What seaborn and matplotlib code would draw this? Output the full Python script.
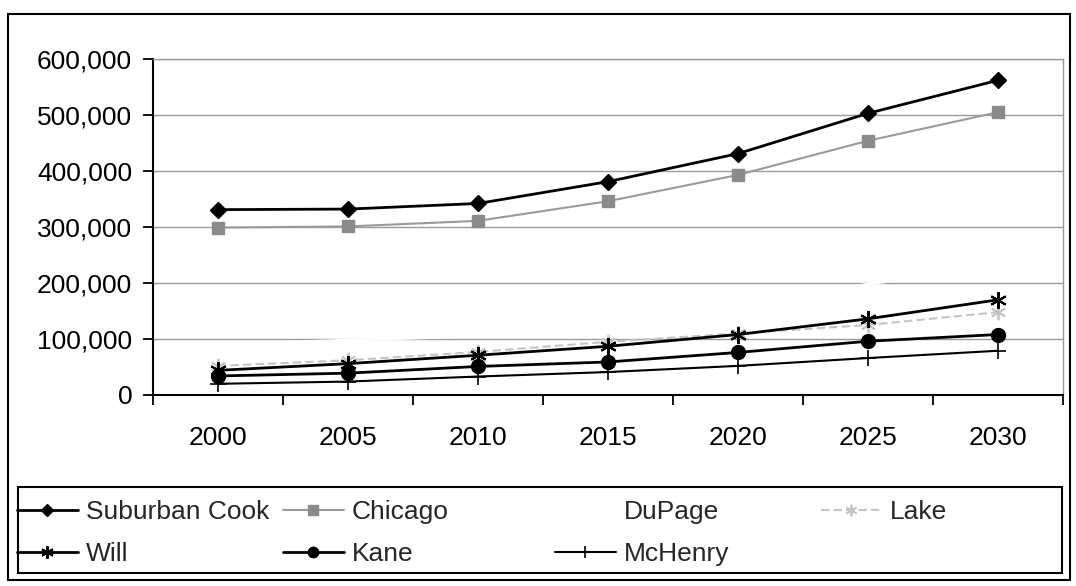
import numpy as np
import pandas as pd
import matplotlib
matplotlib.use("Agg")
import matplotlib.pyplot as plt
import seaborn as sns
from matplotlib.patches import Rectangle
from matplotlib.ticker import FixedLocator, FuncFormatter

# ---------------- data ----------------
years = ["2000", "2005", "2010", "2015", "2020", "2025", "2030"]
suburban_cook = [331000, 332000, 342000, 381000, 431000, 503000, 562000]
chicago = [299000, 301000, 311000, 346000, 393000, 454000, 505000]
dupage = [90000, 98000, 105000, 125000, 160000, 198000, 230000]
lake = [52000, 62000, 77000, 95000, 110000, 125000, 148000]
will = [44000, 56000, 71000, 87000, 108000, 136000, 170000]
kane = [34000, 39000, 51000, 59000, 76000, 96000, 108000]
mchenry = [20000, 24000, 33000, 41000, 52000, 66000, 79000]

series_names = ["Suburban Cook", "Chicago", "DuPage", "Lake", "Will", "Kane", "McHenry"]
series_values = [suburban_cook, chicago, dupage, lake, will, kane, mchenry]
y_ticks = [0, 100000, 200000, 300000, 400000, 500000, 600000]

df = pd.DataFrame({
    "Year": [y for _ in series_names for y in years],
    "Value": [v for vals in series_values for v in vals],
    "County": [n for n in series_names for _ in years],
})

styles = {
    "Suburban Cook": dict(color="black", marker="D", markersize=8, lw=2.0, ls="-",
                          mfc="black", mec="black", mew=1.0),
    "Chicago": dict(color="#9a9a9a", marker="s", markersize=9, lw=1.5, ls="-",
                    mfc="#8a8a8a", mec="#8a8a8a", mew=1.0),
    "DuPage": dict(color="white", marker=None, markersize=0, lw=2.0, ls="-",
                   mfc="white", mec="white", mew=0),
    "Lake": dict(color="#c4c4c4", marker=(6, 2, 0), markersize=11, lw=1.5, ls=(0, (4, 2)),
                 mfc="#c4c4c4", mec="#c4c4c4", mew=1.3),
    "Will": dict(color="black", marker=(6, 2, 0), markersize=12, lw=2.0, ls="-",
                 mfc="black", mec="black", mew=1.5),
    "Kane": dict(color="black", marker="o", markersize=10, lw=2.0, ls="-",
                 mfc="black", mec="black", mew=1.0),
    "McHenry": dict(color="black", marker="+", markersize=11, lw=1.5, ls="-",
                    mfc="black", mec="black", mew=1.2),
}

# ---------------- figure ----------------
sns.set_theme(style="white")
plt.rcParams['font.family'] = ['Liberation Sans', 'DejaVu Sans']

W, H = 1076, 586
fig = plt.figure(figsize=(W / 100, H / 100), dpi=100)
fig.patch.set_facecolor("white")


def fx(px):
    return px / W


def fy(py):
    return 1 - py / H


ax = fig.add_axes([fx(153), fy(395), fx(1063) - fx(153), fy(59) - fy(395)])

for name in series_names:
    st = styles[name]
    sub = df[df["County"] == name]
    sns.lineplot(data=sub, x="Year", y="Value", ax=ax, sort=False,
                 color=st["color"], marker=st["marker"], markersize=st["markersize"],
                 linewidth=st["lw"], linestyle=st["ls"], markerfacecolor=st["mfc"],
                 markeredgecolor=st["mec"], markeredgewidth=st["mew"], label=name)

if ax.get_legend() is not None:
    ax.get_legend().remove()

ax.set_xlim(-0.5, 6.5)
ax.set_ylim(0, 600000)
ax.set_xlabel("")
ax.set_ylabel("")
ax.yaxis.set_major_locator(FixedLocator(y_ticks))
ax.yaxis.set_major_formatter(FuncFormatter(lambda v, p: f"{int(v):,}"))
ax.yaxis.grid(True, color="#9a9a9a", linewidth=1.0, linestyle="-")
ax.xaxis.grid(False)
ax.set_axisbelow(True)

ax.xaxis.set_minor_locator(FixedLocator([i - 0.5 for i in range(8)]))
ax.tick_params(axis="x", which="major", length=0, pad=22, labelsize=19, labelcolor="black")
ax.tick_params(axis="x", which="minor", bottom=True, length=7, width=1.3, color="black",
               direction="out")
ax.tick_params(axis="y", which="major", left=True, length=7, width=1.3, color="black",
               direction="out", pad=8, labelsize=19, labelcolor="black")

for side in ["left", "bottom"]:
    ax.spines[side].set_color("black")
    ax.spines[side].set_linewidth(1.5)
for side in ["top", "right"]:
    ax.spines[side].set_color("#9a9a9a")
    ax.spines[side].set_linewidth(1.0)
    ax.spines[side].set_linestyle((0, (2, 1)))

# ---------------- legend ----------------
handles, labels = ax.get_legend_handles_labels()
hmap = dict(zip(labels, handles))
columns = [
    (17, ["Suburban Cook", "Will"]),
    (283, ["Chicago", "Kane"]),
    (555, ["DuPage", "McHenry"]),
    (821, ["Lake"]),
]
for xpos, names in columns:
    fig.legend([hmap[n] for n in names], names, loc="upper left",
               bbox_to_anchor=(fx(xpos), fy(500)), bbox_transform=fig.transFigure,
               frameon=False, fontsize=19, handlelength=2.3, handletextpad=0.3,
               borderpad=0, borderaxespad=0, labelspacing=0.68, markerscale=0.75)

# legend frame and outer chart frame
fig.add_artist(Rectangle((fx(18), fy(573)), fx(1062) - fx(18), fy(487) - fy(573),
                         transform=fig.transFigure, fill=False, ec="black", lw=1.5))
fig.add_artist(Rectangle((fx(8), fy(580)), fx(1070) - fx(8), fy(14) - fy(580),
                         transform=fig.transFigure, fill=False, ec="black", lw=1.5))

fig.savefig("out.png", dpi=100, facecolor="white")
